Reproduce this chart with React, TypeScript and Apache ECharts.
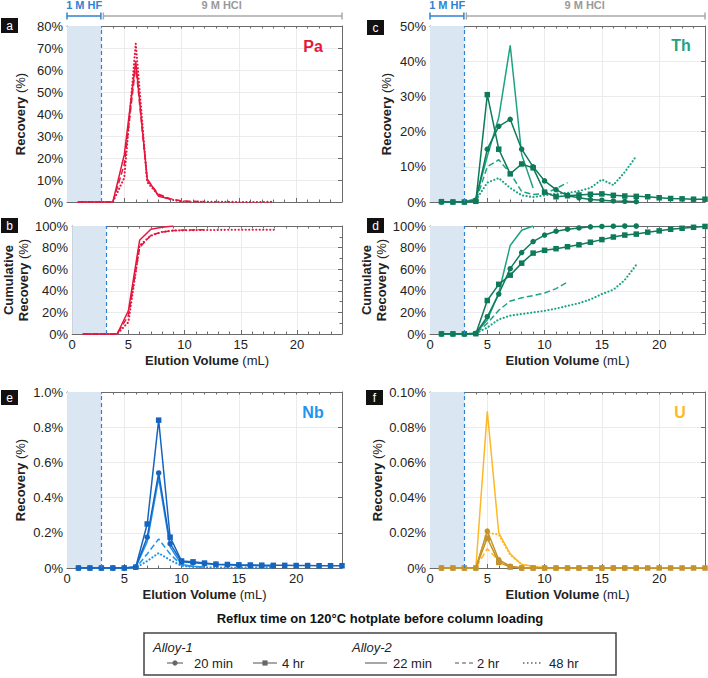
import React, { useEffect, useRef } from 'react';
import * as echarts from 'echarts';

// ---------------- DATA ----------------
const volumes = [1, 2, 3, 4, 5, 6, 7, 8, 9, 10, 11, 12, 13, 14, 15, 16, 17, 18, 19, 20, 21, 22, 23, 24];
const xTicks = [0, 5, 10, 15, 20];

// Pa (a) recovery %, Alloy-2 only
const pa22min = [0, 0, 0, 0, 21.5, 64, 10.5, 2.6, 1.4];
const pa2hr = [0, 0, 0, 0, 17, 62, 10, 3.5, 1.5, 0.5, 0.3, 0.2];
const pa48hr = [0, 0, 0, 0, 11, 72, 9, 3, 1.2, 0.2, 0.1, 0.1, 0.1, 0.1, 0, 0, 0, 0.1];
// Pa (b) cumulative %
const pa22minCum = [0, 0, 0, 0, 21.5, 86.8, 97, 98.8, 100];
const pa2hrCum = [0, 0, 0, 0, 17, 80, 91.5, 94.5, 95.8, 96.2, 96.4, 96.5];
const pa48hrCum = [0, 0, 0, 0, 11, 82, 91, 94.5, 95.8, 96, 96.2, 96.3, 96.4, 96.5, 96.5, 96.5, 96.5, 96.6];

// Th (c) recovery %
const th20min = [0, 0, 0, 0.5, 15, 21.5, 23.5, 15, 10, 6, 3.5, 1.8, 1.2, 0.7, 0.5, 0.3, 0.2, 0.1];
const th4hr = [0.1, 0, 0, 0.2, 30.5, 15, 8, 10.8, 9.7, 2.8, 1.5, 1.8, 2, 2.2, 2.3, 1.9, 1.7, 1.6, 1.5, 1.2, 1, 0.9, 0.8, 0.8];
const th22min = [0, 0, 0, 1, 13, 24, 44.5, 13.5, 4];
const th2hr = [0, 0, 0, 0.3, 10, 12, 8.2, 3, 2.1, 2.4, 3.8, 5.5];
const th48hr = [0, 0, 0, 0.5, 5.5, 6.8, 4, 1.9, 1.4, 1.9, 2.4, 2.6, 3.1, 4, 6.4, 4.8, 8.5, 13];
// Th (d) cumulative %
const th20minCum = [0, 0, 0, 0.5, 16, 37, 60.5, 75.4, 85.6, 91.6, 95.2, 97, 98.2, 99.2, 99.6, 99.8, 100, 100];
const th4hrCum = [0.1, 0.1, 0.1, 0.3, 31, 46, 54.5, 65.6, 74.9, 77.5, 79, 80.8, 82.6, 85, 87.4, 89.8, 91.6, 92.5, 94.3, 95.5, 97, 97.9, 98.8, 99.6];
const th22minCum = [0, 0, 0, 1, 13, 38, 82, 96, 100];
const th2hrCum = [0, 0, 0, 0.3, 10, 22, 30.5, 33.5, 35.6, 38, 42, 48];
const th48hrCum = [0, 0, 0, 0.5, 6, 13.5, 17, 18.5, 20, 21.5, 23.5, 26, 28.5, 32, 37, 41, 50, 64];

// Nb (e) recovery %
const nb20min = [0, 0, 0, 0, 0, 0.005, 0.175, 0.54, 0.138, 0.035, 0.03, 0.025, 0.02, 0.018, 0.015, 0.014, 0.013, 0.012];
const nb4hr = [0, 0, 0, 0, 0, 0.005, 0.25, 0.84, 0.175, 0.04, 0.035, 0.028, 0.022, 0.02, 0.018, 0.017, 0.016, 0.015, 0.015, 0.014, 0.014, 0.013, 0.013, 0.013];
const nb22min = [0, 0, 0, 0, 0, 0.005, 0.15, 0.51, 0.12, 0.02, 0.01, 0.005];
const nb2hr = [0, 0, 0, 0, 0, 0, 0.08, 0.165, 0.08, 0.015, 0.008, 0.005];
const nb48hr = [0, 0, 0, 0, 0, 0, 0.04, 0.085, 0.045, 0.012, 0.006, 0.004, 0.003, 0.003, 0.002, 0.002, 0.002, 0.002];

// U (f) recovery %
const u20min = [0, 0, 0, 0, 0.021, 0.0047, 0.001, 0, 0, 0, 0, 0, 0, 0, 0, 0, 0, 0];
const u4hr = [0, 0, 0, 0, 0.017, 0.0032, 0.0005, 0, 0, 0, 0, 0, 0, 0, 0, 0, 0, 0, 0, 0, 0, 0, 0, 0];
const u22min = [0, 0, 0, 0, 0.089, 0.02, 0.008, 0.002, 0.001, 0, 0, 0, 0, 0, 0, 0, 0, 0, 0, 0, 0, 0, 0, 0];
const u2hr = [0, 0, 0, 0, 0.011, 0.004, 0.001, 0, 0, 0, 0, 0];
const u48hr = [0, 0, 0, 0, 0.02, 0.019, 0.0075, 0.002, 0.001, 0, 0, 0, 0, 0, 0, 0, 0, 0];

const legendTitle = 'Reflux time on 120°C hotplate before column loading';

// ---------------- STYLE / LAYOUT ----------------
const FONT = '"Liberation Sans", Arial, Helvetica, sans-serif';
const AX = '#6b6b6b';
const GRIDLINE = '#ebebeb';
const TXT = '#222';
const RED = '#E5173F';
const TH_D = '#0E7A5A', TH_L = '#1DA384';
const NB_D = '#1565C0', NB_L = '#2393EE';
const U_D = '#C4932B', U_L = '#FDB827';
const HF_BLUE = '#2F82D2';

const GRIDS = [
  { left: 67, top: 26, width: 275, height: 176 },   // a
  { left: 67, top: 226, width: 275, height: 108 },  // b
  { left: 430, top: 26, width: 275, height: 176 },  // c
  { left: 430, top: 226, width: 275, height: 108 }, // d
  { left: 67, top: 392, width: 275, height: 176 },  // e
  { left: 430, top: 392, width: 275, height: 176 }, // f
];

type Kind = 'circle' | 'square' | 'solid' | 'dashed' | 'dotted';

const pairs = (vals: number[]) => vals.map((v, i) => [volumes[i], v]);

function mkSeries(name: string, vals: number[], g: number, color: string, kind: Kind) {
  const marked = kind === 'circle' || kind === 'square';
  const s: any = {
    type: 'line',
    name,
    xAxisIndex: g * 3,
    yAxisIndex: g * 2,
    data: pairs(vals),
    color,
    symbol: kind === 'circle' ? 'circle' : kind === 'square' ? 'rect' : 'none',
    symbolSize: 5.5,
    showSymbol: marked,
    itemStyle: { color },
    lineStyle: { color, width: 1.5 },
    z: marked ? 4 : 3,
    silent: true,
  };
  if (kind === 'dashed') s.lineStyle.type = [6, 3];
  if (kind === 'dotted') { s.lineStyle.type = [0.1, 3.4]; s.lineStyle.width = 2.1; s.lineStyle.cap = 'round'; }
  return s;
}

function withRegion(s: any) {
  s.markArea = {
    silent: true,
    itemStyle: { color: '#dbe6f3' },
    label: { show: false },
    data: [[{ xAxis: 0 }, { xAxis: 3 }]],
  };
  s.markLine = {
    silent: true,
    symbol: 'none',
    label: { show: false },
    lineStyle: { color: HF_BLUE, width: 1.2, type: [4, 3] },
    data: [{ xAxis: 3 }],
  };
  return s;
}

const panelDefs = [
  { max: 80, interval: 10, fmt: (v: number) => v + '%', xl: false, name: '{b|Recovery} (%)', gap: 39, minor: false },
  { max: 100, interval: 20, fmt: (v: number) => v + '%', xl: true, name: '{b|Cumulative}\n{b|Recovery} (%)', gap: 33, minor: true },
  { max: 50, interval: 10, fmt: (v: number) => v + '%', xl: false, name: '{b|Recovery} (%)', gap: 36, minor: false },
  { max: 100, interval: 20, fmt: (v: number) => v + '%', xl: true, name: '{b|Cumulative}\n{b|Recovery} (%)', gap: 38, minor: true },
  { max: 1.0, interval: 0.2, fmt: (v: number) => (v === 0 ? '0%' : v.toFixed(1) + '%'), xl: true, name: '{b|Recovery} (%)', gap: 39, minor: false },
  { max: 0.1, interval: 0.02, fmt: (v: number) => (v === 0 ? '0%' : v.toFixed(2) + '%'), xl: true, name: '{b|Recovery} (%)', gap: 45, minor: false },
];

const nameStyle = {
  fontSize: 13, fontFamily: FONT, color: TXT, lineHeight: 15,
  rich: { b: { fontSize: 13, fontFamily: FONT, color: TXT, fontWeight: 'bold', lineHeight: 15 } },
};

function buildAxes() {
  const xAxis: any[] = [];
  const yAxis: any[] = [];
  panelDefs.forEach((p, g) => {
    xAxis.push({
      gridIndex: g, type: 'value', min: 0, max: 24, interval: 5, position: 'bottom',
      axisLine: { show: true, onZero: false, lineStyle: { color: AX, width: 1 } },
      axisTick: { show: true, inside: true, length: 4, lineStyle: { color: AX } },
      axisLabel: { show: p.xl, showMaxLabel: false, color: TXT, fontSize: 13, fontFamily: FONT, margin: 4,
        formatter: (v: number) => (xTicks.indexOf(v) >= 0 ? String(v) : '') },
      splitLine: { show: true, lineStyle: { color: GRIDLINE } },
      name: p.xl ? '{b|Elution Volume} (mL)' : '',
      nameLocation: 'middle', nameGap: 19, nameTextStyle: nameStyle,
    });
    xAxis.push({
      gridIndex: g, type: 'value', min: 0, max: 24, interval: 1, position: 'bottom',
      axisLine: { show: false, onZero: false },
      axisTick: { show: true, inside: true, length: 2.5, lineStyle: { color: AX } },
      axisLabel: { show: false }, splitLine: { show: false },
    });
    xAxis.push({
      gridIndex: g, type: 'value', min: 0, max: 24, interval: 1, position: 'top',
      axisLine: { show: true, onZero: false, lineStyle: { color: AX, width: 1 } },
      axisTick: { show: true, inside: true, length: 2.5, lineStyle: { color: AX } },
      axisLabel: { show: false }, splitLine: { show: false },
    });
    const yCommon = {
      gridIndex: g, type: 'value', min: 0, max: p.max, interval: p.interval,
      axisLine: { show: true, onZero: false, lineStyle: { color: AX, width: 1 } },
      axisTick: { show: true, inside: true, length: 4, lineStyle: { color: AX } },
      minorTick: p.minor ? { show: true, splitNumber: 2, length: 2.5, lineStyle: { color: AX } } : { show: false },
    };
    yAxis.push({
      ...yCommon, position: 'left',
      axisLabel: { formatter: p.fmt, color: TXT, fontSize: 13, fontFamily: FONT, margin: 4 },
      splitLine: { show: true, lineStyle: { color: GRIDLINE } },
      name: p.name, nameLocation: 'middle', nameRotate: 90, nameGap: p.gap, nameTextStyle: nameStyle,
    });
    yAxis.push({
      ...yCommon, position: 'right',
      axisLabel: { show: false }, splitLine: { show: false },
    });
  });
  return { xAxis, yAxis };
}

function buildSeries() {
  return [
    // a: Pa
    withRegion(mkSeries('22 min', pa22min, 0, RED, 'solid')),
    mkSeries('2 hr', pa2hr, 0, RED, 'dashed'),
    mkSeries('48 hr', pa48hr, 0, RED, 'dotted'),
    // b: Pa cumulative
    withRegion(mkSeries('22 min', pa22minCum, 1, RED, 'solid')),
    mkSeries('2 hr', pa2hrCum, 1, RED, 'dashed'),
    mkSeries('48 hr', pa48hrCum, 1, RED, 'dotted'),
    // c: Th
    withRegion(mkSeries('22 min', th22min, 2, TH_L, 'solid')),
    mkSeries('2 hr', th2hr, 2, TH_L, 'dashed'),
    mkSeries('48 hr', th48hr, 2, TH_L, 'dotted'),
    mkSeries('20 min', th20min, 2, TH_D, 'circle'),
    mkSeries('4 hr', th4hr, 2, TH_D, 'square'),
    // d: Th cumulative
    withRegion(mkSeries('22 min', th22minCum, 3, TH_L, 'solid')),
    mkSeries('2 hr', th2hrCum, 3, TH_L, 'dashed'),
    mkSeries('48 hr', th48hrCum, 3, TH_L, 'dotted'),
    mkSeries('20 min', th20minCum, 3, TH_D, 'circle'),
    mkSeries('4 hr', th4hrCum, 3, TH_D, 'square'),
    // e: Nb
    withRegion(mkSeries('22 min', nb22min, 4, NB_L, 'solid')),
    mkSeries('2 hr', nb2hr, 4, NB_L, 'dashed'),
    mkSeries('48 hr', nb48hr, 4, NB_L, 'dotted'),
    mkSeries('20 min', nb20min, 4, NB_D, 'circle'),
    mkSeries('4 hr', nb4hr, 4, NB_D, 'square'),
    // f: U
    withRegion(mkSeries('22 min', u22min, 5, U_L, 'solid')),
    mkSeries('2 hr', u2hr, 5, U_L, 'dashed'),
    mkSeries('48 hr', u48hr, 5, U_L, 'dotted'),
    mkSeries('20 min', u20min, 5, U_D, 'circle'),
    mkSeries('4 hr', u4hr, 5, U_D, 'square'),
  ];
}

const xp = (g: number, v: number) => GRIDS[g].left + (v / 24) * GRIDS[g].width;

function buildGraphics() {
  const els: any[] = [];
  const badges = [
    { t: 'a', x: 1, y: 18 }, { t: 'b', x: 1, y: 218 }, { t: 'c', x: 367, y: 20 },
    { t: 'd', x: 367, y: 218 }, { t: 'e', x: 1, y: 390 }, { t: 'f', x: 366, y: 390 },
  ];
  badges.forEach((b) => {
    els.push({ type: 'rect', shape: { x: b.x, y: b.y, width: 17, height: 15 }, style: { fill: '#111' }, silent: true });
    els.push({ type: 'text', x: b.x + 8.5, y: b.y + 7.5, style: { text: b.t, fill: '#fff', font: `12px ${FONT}`, align: 'center', verticalAlign: 'middle' }, silent: true });
  });
  const elems = [
    { t: 'Pa', x: 313, y: 46, c: RED }, { t: 'Th', x: 681, y: 45, c: TH_L },
    { t: 'Nb', x: 313, y: 412, c: NB_L }, { t: 'U', x: 680, y: 412, c: U_L },
  ];
  elems.forEach((e) => {
    els.push({ type: 'text', x: e.x, y: e.y, style: { text: e.t, fill: e.c, font: `bold 16px ${FONT}`, align: 'center', verticalAlign: 'middle' }, silent: true, z: 10 });
  });
  [0, 2].forEach((g) => {
    const y = 16;
    const x0 = xp(g, 0), x3 = xp(g, 3), x24 = xp(g, 24);
    const seg = (a: number, b: number, col: string) => {
      els.push({ type: 'line', shape: { x1: a, y1: y, x2: b, y2: y }, style: { stroke: col, lineWidth: 1.5 }, silent: true });
      els.push({ type: 'line', shape: { x1: a, y1: y - 3.5, x2: a, y2: y + 3.5 }, style: { stroke: col, lineWidth: 1.5 }, silent: true });
      els.push({ type: 'line', shape: { x1: b, y1: y - 3.5, x2: b, y2: y + 3.5 }, style: { stroke: col, lineWidth: 1.5 }, silent: true });
    };
    seg(x0, x3 - 0.5, HF_BLUE);
    seg(x3 + 2, x24, '#a9a9a9');
    els.push({ type: 'text', x: (x0 + x3) / 2, y: 5, style: { text: '1 M HF', fill: HF_BLUE, font: `bold 11px ${FONT}`, align: 'center', verticalAlign: 'middle' }, silent: true });
    els.push({ type: 'text', x: (x3 + x24) / 2, y: 5, style: { text: '9 M HCl', fill: '#9a9a9a', font: `bold 11px ${FONT}`, align: 'center', verticalAlign: 'middle' }, silent: true });
  });
  // legend (title centred over the box)
  const boxL = 144, boxW = 472;
  els.push({ type: 'text', x: boxL + boxW / 2, y: 618, style: { text: legendTitle, fill: '#111', font: `bold 13px ${FONT}`, align: 'center', verticalAlign: 'middle' }, silent: true });
  els.push({ type: 'rect', shape: { x: boxL, y: 633, width: boxW, height: 42 }, style: { fill: 'none', stroke: '#444', lineWidth: 1.5 }, silent: true });
  const rowA = 647, rowB = 663;
  const LG = '#8a8a8a', LM = '#666';
  els.push({ type: 'text', x: 153, y: rowA, style: { text: 'Alloy-1', fill: TXT, font: `italic 13px ${FONT}`, align: 'left', verticalAlign: 'middle' }, silent: true });
  els.push({ type: 'text', x: 352, y: rowA, style: { text: 'Alloy-2', fill: TXT, font: `italic 13px ${FONT}`, align: 'left', verticalAlign: 'middle' }, silent: true });
  const item = (x1: number, x2: number, tx: number, label: string, kind: Kind) => {
    const st: any = { stroke: LG, lineWidth: 1.5 };
    if (kind === 'dashed') st.lineDash = [4, 3];
    if (kind === 'dotted') { st.lineDash = [1.5, 2.5]; st.lineWidth = 1.8; }
    els.push({ type: 'line', shape: { x1, y1: rowB, x2, y2: rowB }, style: st, silent: true });
    const cx = (x1 + x2) / 2;
    if (kind === 'circle') els.push({ type: 'circle', shape: { cx, cy: rowB, r: 2.6 }, style: { fill: LM }, silent: true });
    if (kind === 'square') els.push({ type: 'rect', shape: { x: cx - 2.6, y: rowB - 2.6, width: 5.2, height: 5.2 }, style: { fill: LM }, silent: true });
    els.push({ type: 'text', x: tx, y: rowB, style: { text: label, fill: TXT, font: `13px ${FONT}`, align: 'left', verticalAlign: 'middle' }, silent: true });
  };
  item(167, 183, 194, '20 min', 'circle');
  item(253, 277, 282, '4 hr', 'square');
  item(365, 387, 393, '22 min', 'solid');
  item(455, 473, 477, '2 hr', 'dashed');
  item(523, 543, 549, '48 hr', 'dotted');
  return els;
}

export default function App() {
  const ref = useRef<HTMLDivElement>(null);
  useEffect(() => {
    document.body.style.margin = '0';
    if (!ref.current) return;
    const chart = echarts.init(ref.current, null, { renderer: 'svg' });
    const { xAxis, yAxis } = buildAxes();
    chart.setOption({
      animation: false,
      backgroundColor: '#ffffff',
      textStyle: { fontFamily: FONT },
      grid: GRIDS.map((g) => ({ ...g, containLabel: false })),
      xAxis,
      yAxis,
      series: buildSeries(),
      graphic: { elements: buildGraphics() },
    });
    return () => chart.dispose();
  }, []);
  return <div ref={ref} style={{ position: 'absolute', left: 0, top: 0, width: 708, height: 678 }} />;
}
